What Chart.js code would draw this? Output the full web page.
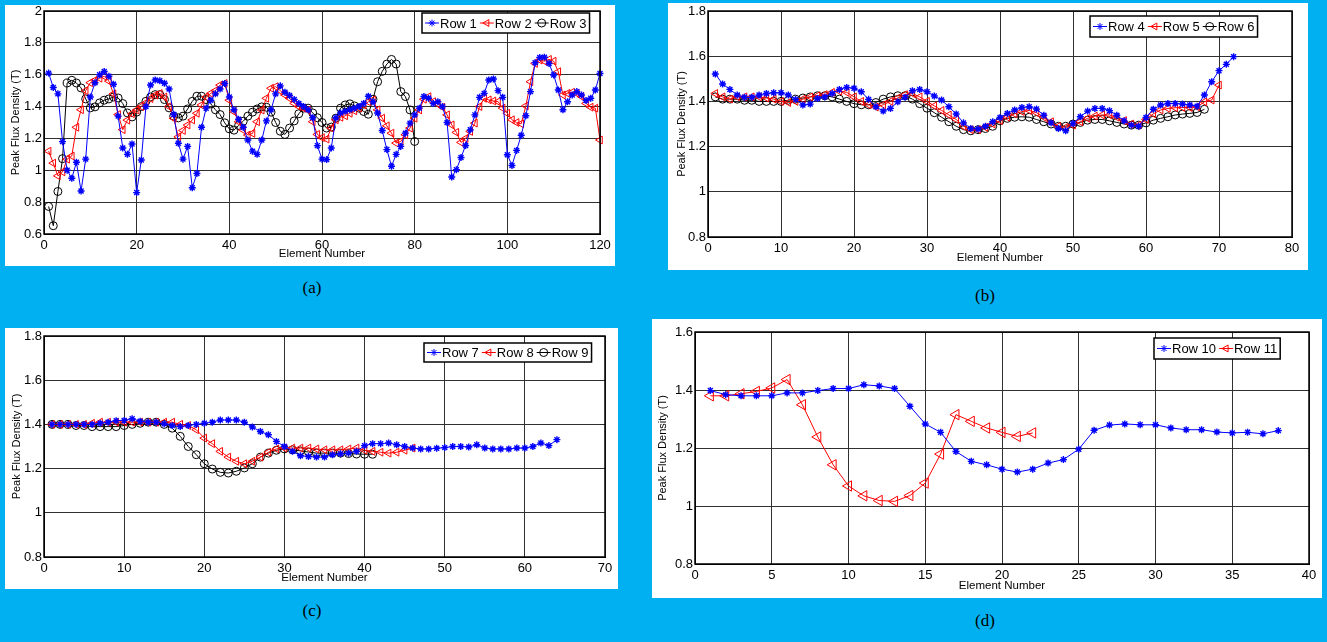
<!DOCTYPE html>
<html>
<head>
<meta charset="utf-8">
<script src="https://cdn.jsdelivr.net/npm/chart.js@4.4.0/dist/chart.umd.min.js"></script>
<style>
  html, body { margin: 0; padding: 0; }
  body { width: 1327px; height: 642px; background: #00b0f0; position: relative; overflow: hidden; }
  .panel { position: absolute; background: #fff; }
  .cap { position: absolute; width: 40px; margin-left: -20px; text-align: center;
         font: 17px/17px "Liberation Serif", "Times New Roman", serif; color: #000; }
</style>
</head>
<body>
<div class="panel" style="left:5px;top:5px;width:610px;height:261px"><canvas id="chartA"></canvas></div>
<div class="panel" style="left:668px;top:3px;width:640px;height:267px"><canvas id="chartB"></canvas></div>
<div class="panel" style="left:5px;top:328px;width:613px;height:261px"><canvas id="chartC"></canvas></div>
<div class="panel" style="left:652px;top:319px;width:670px;height:279px"><canvas id="chartD"></canvas></div>
<div class="cap" style="left:312px;top:279px">(a)</div>
<div class="cap" style="left:985px;top:287px">(b)</div>
<div class="cap" style="left:312px;top:602px">(c)</div>
<div class="cap" style="left:985px;top:612px">(d)</div>
<script>
// peak flux density per element
const row1 = [1.61, 1.52, 1.48, 1.18, 1.00, 0.95, 1.05, 0.87, 1.07, 1.46,
  1.55, 1.60, 1.62, 1.59, 1.54, 1.34, 1.14, 1.10, 1.165, 0.86,
  1.065, 1.40, 1.535, 1.567, 1.562, 1.546, 1.51, 1.35, 1.17, 1.07,
  1.15, 0.89, 0.98, 1.27, 1.39, 1.44, 1.48, 1.51, 1.545, 1.46,
  1.38, 1.32, 1.27, 1.19, 1.12, 1.10, 1.19, 1.31, 1.38, 1.48,
  1.53, 1.49, 1.47, 1.445, 1.42, 1.40, 1.38, 1.33, 1.155, 1.07,
  1.067, 1.14, 1.33, 1.36, 1.37, 1.38, 1.39, 1.40, 1.42, 1.465,
  1.43, 1.36, 1.25, 1.13, 1.025, 1.10, 1.15, 1.233, 1.296, 1.348,
  1.39, 1.463, 1.452, 1.42, 1.43, 1.40, 1.30, 0.958, 1.004, 1.08,
  1.156, 1.254, 1.348, 1.458, 1.483, 1.567, 1.573, 1.50, 1.458, 1.098,
  1.03, 1.125, 1.22, 1.342, 1.494, 1.675, 1.708, 1.71, 1.67, 1.598,
  1.504, 1.38, 1.43, 1.473, 1.494, 1.473, 1.438, 1.452, 1.504, 1.608];
const row2 = [1.12, 1.045, 0.965, 0.99, 1.07, 1.09, 1.27, 1.38, 1.50, 1.55,
  1.565, 1.578, 1.59, 1.56, 1.48, 1.35, 1.255, 1.315, 1.355, 1.378,
  1.40, 1.424, 1.45, 1.472, 1.482, 1.46, 1.40, 1.326, 1.21, 1.25,
  1.284, 1.316, 1.358, 1.41, 1.46, 1.483, 1.50, 1.535, 1.545, 1.44,
  1.368, 1.305, 1.253, 1.221, 1.232, 1.305, 1.378, 1.452, 1.515, 1.525,
  1.50, 1.473, 1.452, 1.42, 1.40, 1.39, 1.378, 1.305, 1.225, 1.205,
  1.196, 1.265, 1.317, 1.333, 1.342, 1.358, 1.373, 1.39, 1.41, 1.43,
  1.442, 1.379, 1.327, 1.279, 1.233, 1.171, 1.181, 1.223, 1.265, 1.327,
  1.379, 1.446, 1.462, 1.431, 1.417, 1.396, 1.348, 1.285, 1.238, 1.175,
  1.20, 1.244, 1.296, 1.40, 1.452, 1.442, 1.435, 1.431, 1.39, 1.358,
  1.317, 1.30, 1.292, 1.404, 1.556, 1.671, 1.692, 1.685, 1.696, 1.685,
  1.619, 1.473, 1.483, 1.49, 1.483, 1.463, 1.42, 1.396, 1.39, 1.19];
const row3 = [0.773, 0.652, 0.867, 1.073, 1.548, 1.565, 1.548, 1.517, 1.448, 1.392,
  1.398, 1.423, 1.44, 1.448, 1.46, 1.454, 1.419, 1.36, 1.335, 1.365,
  1.40, 1.433, 1.46, 1.475, 1.475, 1.444, 1.392, 1.34, 1.329, 1.34,
  1.385, 1.433, 1.465, 1.465, 1.444, 1.417, 1.38, 1.35, 1.298, 1.26,
  1.252, 1.281, 1.308, 1.34, 1.365, 1.385, 1.398, 1.396, 1.365, 1.30,
  1.245, 1.225, 1.265, 1.31, 1.355, 1.39, 1.39, 1.36, 1.33, 1.30,
  1.265, 1.271, 1.327, 1.39, 1.41, 1.417, 1.404, 1.39, 1.369, 1.352,
  1.446, 1.556, 1.621, 1.667, 1.696, 1.667, 1.494, 1.463, 1.379, 1.181];

const row4 = [1.521, 1.477, 1.453, 1.428, 1.418, 1.418, 1.428, 1.435, 1.438, 1.438,
  1.428, 1.409, 1.384, 1.388, 1.413, 1.42, 1.435, 1.453, 1.462, 1.458,
  1.443, 1.409, 1.376, 1.357, 1.369, 1.398, 1.418, 1.447, 1.453, 1.443,
  1.424, 1.406, 1.376, 1.344, 1.305, 1.28, 1.278, 1.29, 1.31, 1.329,
  1.347, 1.362, 1.373, 1.376, 1.366, 1.339, 1.305, 1.28, 1.27, 1.302,
  1.332, 1.357, 1.369, 1.369, 1.359, 1.339, 1.314, 1.295, 1.29, 1.329,
  1.365, 1.384, 1.391, 1.391, 1.388, 1.384, 1.379, 1.428, 1.487, 1.536,
  1.564, 1.598];
const row5 = [1.435, 1.42, 1.41, 1.42, 1.42, 1.42, 1.42, 1.415, 1.41, 1.40,
  1.395, 1.40, 1.41, 1.42, 1.425, 1.43, 1.44, 1.445, 1.44, 1.42,
  1.40, 1.385, 1.375, 1.385, 1.40, 1.415, 1.43, 1.435, 1.42, 1.40,
  1.38, 1.36, 1.34, 1.32, 1.29, 1.275, 1.275, 1.285, 1.30, 1.315,
  1.33, 1.345, 1.355, 1.36, 1.35, 1.33, 1.31, 1.29, 1.285, 1.295,
  1.31, 1.325, 1.335, 1.34, 1.34, 1.33, 1.315, 1.30, 1.295, 1.32,
  1.345, 1.362, 1.369, 1.372, 1.373, 1.373, 1.376, 1.398, 1.406, 1.472];
const row6 = [1.42, 1.41, 1.41, 1.41, 1.405, 1.405, 1.40, 1.40, 1.40, 1.40,
  1.405, 1.41, 1.415, 1.42, 1.425, 1.425, 1.42, 1.41, 1.40, 1.39,
  1.385, 1.385, 1.395, 1.41, 1.42, 1.425, 1.425, 1.41, 1.39, 1.37,
  1.35, 1.33, 1.31, 1.29, 1.275, 1.27, 1.275, 1.28, 1.29, 1.314,
  1.325, 1.33, 1.332, 1.33, 1.32, 1.31, 1.30, 1.29, 1.29, 1.30,
  1.307, 1.317, 1.32, 1.32, 1.314, 1.307, 1.30, 1.295, 1.295, 1.305,
  1.317, 1.325, 1.332, 1.34, 1.344, 1.347, 1.351, 1.365];

const row7 = [1.40, 1.40, 1.40, 1.40, 1.40, 1.40, 1.405, 1.41, 1.417, 1.418,
  1.426, 1.414, 1.41, 1.41, 1.403, 1.395, 1.39, 1.395, 1.40, 1.405,
  1.41, 1.42, 1.42, 1.42, 1.41, 1.388, 1.368, 1.353, 1.323, 1.30,
  1.278, 1.258, 1.255, 1.252, 1.252, 1.263, 1.267, 1.27, 1.278, 1.304,
  1.313, 1.313, 1.316, 1.308, 1.30, 1.293, 1.289, 1.289, 1.292, 1.295,
  1.30, 1.30, 1.298, 1.308, 1.293, 1.289, 1.289, 1.289, 1.293, 1.293,
  1.30, 1.316, 1.304, 1.331];
const row8 = [1.40, 1.40, 1.40, 1.40, 1.40, 1.405, 1.41, 1.41, 1.41, 1.41,
  1.41, 1.41, 1.41, 1.41, 1.41, 1.41, 1.40, 1.395, 1.376, 1.338,
  1.313, 1.278, 1.252, 1.233, 1.222, 1.233, 1.252, 1.274, 1.289, 1.293,
  1.293, 1.293, 1.293, 1.289, 1.285, 1.285, 1.285, 1.289, 1.293, 1.283,
  1.278, 1.274, 1.27, 1.274, 1.283, 1.293];
const row9 = [1.40, 1.40, 1.40, 1.395, 1.395, 1.39, 1.39, 1.39, 1.39, 1.395,
  1.40, 1.405, 1.41, 1.41, 1.40, 1.383, 1.346, 1.30, 1.263, 1.222,
  1.198, 1.183, 1.18, 1.188, 1.203, 1.222, 1.252, 1.27, 1.283, 1.289,
  1.285, 1.28, 1.275, 1.27, 1.27, 1.27, 1.27, 1.268, 1.266, 1.265,
  1.265];

const row10 = [1.398, 1.384, 1.38, 1.38, 1.38, 1.39, 1.39, 1.398, 1.405, 1.405,
  1.418, 1.414, 1.405, 1.344, 1.283, 1.254, 1.188, 1.154, 1.142, 1.127,
  1.117, 1.127, 1.148, 1.16, 1.196, 1.261, 1.279, 1.283, 1.28, 1.28,
  1.269, 1.263, 1.263, 1.255, 1.252, 1.254, 1.249, 1.26];
const row11 = [1.38, 1.38, 1.387, 1.395, 1.407, 1.436, 1.349, 1.238, 1.142, 1.069,
  1.035, 1.019, 1.016, 1.036, 1.079, 1.179, 1.315, 1.292, 1.269, 1.254,
  1.24, 1.252];

const SANS = '"Liberation Sans", Arial, sans-serif';

function star(label, values, r) {
  return line(label, values, '#0000ff', 'star', 0, r, 1.4);
}
function tri(label, values, r) {
  return line(label, values, '#ff0000', 'triangle', -90, r, 1);
}
function ring(label, values, r) {
  return line(label, values, '#000000', 'circle', 0, r, 1);
}
function line(label, values, color, shape, rot, r, bw) {
  return {
    label: label,
    data: values.map((v, i) => ({ x: i + 1, y: v })),
    borderColor: color,
    borderWidth: 1,
    pointStyle: shape,
    pointRotation: rot,
    pointRadius: r,
    pointBorderColor: color,
    pointBorderWidth: bw,
    pointBackgroundColor: 'rgba(0,0,0,0)',
    backgroundColor: 'rgba(0,0,0,0)',
    fill: false,
    tension: 0,
    clip: false
  };
}

// axes frame + matlab style legend box inside the axes
const matlabBox = {
  id: 'matlabBox',
  afterDraw(chart, args, opts) {
    const ctx = chart.ctx;
    const a = chart.chartArea;
    ctx.save();
    ctx.strokeStyle = '#000';
    ctx.lineWidth = 1.5;
    ctx.strokeRect(a.left, a.top, a.right - a.left, a.bottom - a.top);

    ctx.font = '13px ' + SANS;
    const sets = chart.data.datasets;
    const seg = 14, gap = 3, pad = 3;
    let w = pad * 2;
    sets.forEach((ds, i) => { w += seg + 1 + ctx.measureText(ds.label).width + (i ? gap : 0); });
    const h = opts.height;
    const left = Math.round(a.right + opts.dx - w);
    const top = Math.round(a.top + opts.dy);
    ctx.fillStyle = '#fff';
    ctx.fillRect(left, top, w, h);
    ctx.lineWidth = 1.5;
    ctx.strokeRect(left, top, w, h);

    const cy = top + h / 2;
    let x = left + pad;
    sets.forEach((ds, i) => {
      if (i) x += gap;
      ctx.strokeStyle = ds.borderColor;
      ctx.lineWidth = 1;
      ctx.beginPath();
      ctx.moveTo(x, cy);
      ctx.lineTo(x + seg, cy);
      ctx.stroke();
      ctx.fillStyle = 'rgba(0,0,0,0)';
      Chart.helpers.drawPoint(ctx, {
        pointStyle: ds.pointStyle, rotation: ds.pointRotation,
        radius: Math.min(ds.pointRadius, 4), borderWidth: 1
      }, x + seg / 2, cy);
      x += seg + 1;
      ctx.fillStyle = '#000';
      ctx.textBaseline = 'middle';
      ctx.textAlign = 'left';
      ctx.fillText(ds.label, x, cy + 1);
      x += ctx.measureText(ds.label).width;
    });
    ctx.restore();
  }
};

function makeChart(id, sets, ax) {
  const tickFont = { family: SANS, size: 13 };
  new Chart(document.getElementById(id), {
    type: 'line',
    data: { datasets: sets },
    plugins: [matlabBox],
    options: {
      responsive: true,
      maintainAspectRatio: false,
      animation: false,
      events: [],
      layout: { padding: { top: ax.padTop, right: ax.padRight, left: 0, bottom: 0 } },
      plugins: {
        legend: { display: false },
        tooltip: { enabled: false },
        matlabBox: { dx: ax.legDx, dy: ax.legDy, height: ax.legH }
      },
      scales: {
        x: {
          type: 'linear', min: 0, max: ax.xMax,
          ticks: { stepSize: ax.xStep, color: '#000', font: tickFont, padding: 4, maxRotation: 0, autoSkip: false },
          grid: { color: '#303030', lineWidth: 1, drawTicks: false },
          border: { color: '#000', width: 1 },
          title: { display: true, text: 'Element Number', color: '#000',
                   font: { family: SANS, size: 11.5 }, padding: { top: 0, bottom: ax.xTitlePad } },
          afterFit(s) { s.height = ax.xHeight; s.paddingLeft = 0; s.paddingRight = 0; }
        },
        y: {
          min: ax.yMin, max: ax.yMax,
          ticks: { stepSize: 0.2, color: '#000', font: tickFont, padding: 2,
                   callback: v => String(Math.round(v * 10) / 10) },
          grid: { color: '#303030', lineWidth: 1, drawTicks: false },
          border: { color: '#000', width: 1 },
          title: { display: true, text: 'Peak Flux Density (T)', color: '#000',
                   font: { family: SANS, size: 11 }, padding: { top: ax.yTitlePad, bottom: 0 } },
          afterFit(s) { s.width = ax.yWidth; s.paddingTop = 0; s.paddingBottom = 0; }
        }
      }
    }
  });
}

makeChart('chartA', [star('Row 1', row1, 3.5), tri('Row 2', row2, 4.5), ring('Row 3', row3, 4)], {
  xMax: 120, xStep: 20, yMin: 0.6, yMax: 2.0,
  padTop: 6, padRight: 15, yWidth: 39, xHeight: 32, yTitlePad: 4.4, xTitlePad: 5,
  legDx: -10, legDy: 2, legH: 20
});
makeChart('chartB', [star('Row 4', row4, 3.5), tri('Row 5', row5, 4.5), ring('Row 6', row6, 4)], {
  xMax: 80, xStep: 10, yMin: 0.8, yMax: 1.8,
  padTop: 8, padRight: 16, yWidth: 40, xHeight: 33, yTitlePad: 7.4, xTitlePad: 5,
  legDx: -34, legDy: 5, legH: 21
});
makeChart('chartC', [star('Row 7', row7, 3.5), tri('Row 8', row8, 4.5), ring('Row 9', row9, 4)], {
  xMax: 70, xStep: 10, yMin: 0.8, yMax: 1.8,
  padTop: 8, padRight: 13, yWidth: 39, xHeight: 32, yTitlePad: 5.4, xTitlePad: 4,
  legDx: -13, legDy: 7, legH: 19
});
makeChart('chartD', [star('Row 10', row10, 3.5), tri('Row 11', row11, 6)], {
  xMax: 40, xStep: 5, yMin: 0.8, yMax: 1.6,
  padTop: 13, padRight: 13, yWidth: 43, xHeight: 34, yTitlePad: 4.4, xTitlePad: 5,
  legDx: -29, legDy: 6, legH: 21
});
</script>
</body>
</html>
